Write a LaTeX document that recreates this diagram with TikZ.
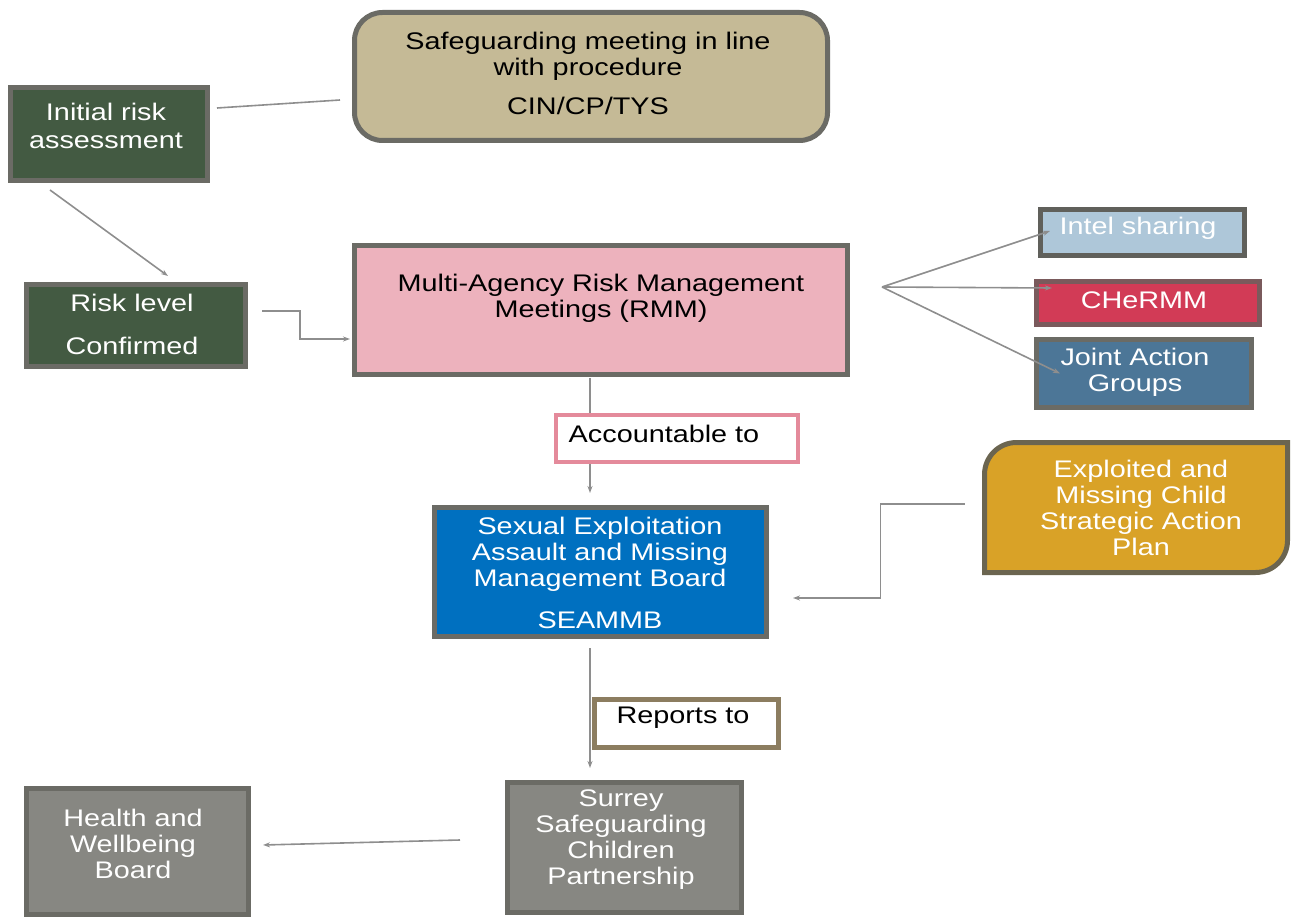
\documentclass[tikz,border=0pt]{standalone}
\usepackage{fontspec}
\setmainfont{Liberation Sans}[FakeStretch=1.2]
\usetikzlibrary{arrows.meta}
\definecolor{dgreen}{HTML}{435A42}
\definecolor{bgray}{HTML}{6B6B65}
\definecolor{tan}{HTML}{C5BA96}
\definecolor{pinkfill}{HTML}{EDB2BD}
\definecolor{lblue}{HTML}{AEC7D9}
\definecolor{redfill}{HTML}{D23B56}
\definecolor{redborder}{HTML}{7A5A5C}
\definecolor{steel}{HTML}{4C7697}
\definecolor{acctpink}{HTML}{E48A9B}
\definecolor{bluefill}{HTML}{0070C0}
\definecolor{gold}{HTML}{D9A227}
\definecolor{goldborder}{HTML}{6B6550}
\definecolor{repborder}{HTML}{8C7D60}
\definecolor{grayfill}{HTML}{878782}
\definecolor{lgray}{HTML}{8E8E8E}
\begin{document}
\begin{tikzpicture}[x=1pt,y=-1pt,
  box/.style={rectangle, line width=5pt, draw=bgray, inner sep=0pt},
  txt/.style={align=center, font=\fontsize{24}{26}\selectfont, inner sep=0pt},
  wtxt/.style={txt, text=white},
  conn/.style={draw=lgray, line width=1.6pt},
  arr/.style={conn, -{Stealth[length=7pt,width=5pt]}}
]
\useasboundingbox (0,0) rectangle (1293,917);

% boxes
\node[box, fill=dgreen, minimum width=197, minimum height=93] (init) at (109,134) {};
\node[box, fill=tan, rounded corners=28pt, minimum width=473, minimum height=128] (safe) at (591,76.5) {};
\node[box, fill=dgreen, minimum width=219, minimum height=82] (risk) at (136,325.5) {};
\node[box, fill=pinkfill, minimum width=493, minimum height=129] (rmm) at (601,310) {};
\node[box, fill=lblue, draw=bgray!90!black, minimum width=204, minimum height=46] (intel) at (1142.5,232.5) {};
\node[box, fill=redfill, draw=redborder, minimum width=223, minimum height=43] (cherm) at (1148,303) {};
\node[box, fill=steel, minimum width=215, minimum height=68] (joint) at (1144,373.5) {};
\node[box, fill=bluefill, minimum width=332, minimum height=129] (seam) at (600.5,572) {};
\node[rectangle, inner sep=0pt, outer sep=0pt, minimum width=303, minimum height=130] (expl) at (1136,507.5) {};
\draw[line width=5pt, draw=goldborder, fill=gold]
  (expl.south west) -- ([shift={(0,32)}]expl.north west)
  arc[start angle=180, end angle=90, radius=32pt]
  -- (expl.north east) -- ([shift={(0,-32)}]expl.south east)
  arc[start angle=0, end angle=-90, radius=32pt] -- cycle;
\node[box, fill=grayfill, minimum width=234, minimum height=130] (surrey) at (624.5,847.5) {};
\node[box, fill=grayfill, minimum width=222, minimum height=126] (health) at (137.5,851.5) {};

% vertical connectors (behind label boxes)
\draw[arr] ([shift={(-11,1)}]rmm.south) -- ([shift={(-10.5,-12)}]seam.north);
\draw[arr] ([shift={(-10.5,9)}]seam.south) -- ([shift={(-34.5,-12)}]surrey.north);

\node[box, fill=white, draw=acctpink, line width=4pt, minimum width=242, minimum height=47] (acct) at (677,438.5) {};
\node[box, fill=white, draw=repborder, minimum width=184, minimum height=48] (rep) at (686.5,723.5) {};

% other connectors
\draw[conn] ([shift={(7,-26)}]init.east) -- ([shift={(-12,23.5)}]safe.west);
\draw[arr] ([shift={(-59,7)}]init.south) -- ([shift={(32,-6)}]risk.north);
\draw[arr] ([shift={(14,-14.5)}]risk.east) -- ++(38,0) |- ([shift={(-2,29)}]rmm.west);
\coordinate (fan) at ([shift={(32,-23)}]rmm.east);
\draw[arr] (fan) -- ([shift={(12,-1.5)}]intel.west);
\draw[arr] (fan) -- ([shift={(18,-15)}]cherm.west);
\draw[arr] (fan) -- ([shift={(26,0)}]joint.west);
\draw[arr] ([shift={(-20,-3.5)}]expl.west) -- ++(-84,0) |- ([shift={(24,26)}]seam.east);
\draw[arr] ([shift={(-45,-7.5)}]surrey.west) -- ([shift={(12,-6.5)}]health.east);

% texts
\node[wtxt] (initT) at (106,126) {Initial risk\\[2pt]assessment};
\node[txt] (safeT) at (588,73.5) {Safeguarding meeting in line\\with procedure\\[13pt]CIN/CP/TYS};
\node[wtxt] (riskT) at (132,324.5) {Risk level\\[17pt]Confirmed};
\node[txt] (rmmT) at (601,298.5) {Multi-Agency Risk Management\\Meetings (RMM)};
\node[wtxt] (intelT) at (1138,228) {Intel sharing};
\node[wtxt] (chermT) at (1144,300) {CHeRMM};
\node[wtxt] (jointT) at (1135,372.5) {Joint Action\\Groups};
\node[txt] (acctT) at (664,434) {Accountable to};
\node[wtxt] (seamT) at (600,573) {Sexual Exploitation\\Assault and Missing\\Management Board\\[16pt]SEAMMB};
\node[wtxt] (explT) at (1141,508) {Exploited and\\Missing Child\\Strategic Action\\Plan};
\node[txt] (repT) at (683,718) {Reports to};
\node[wtxt] (surreyT) at (621,840) {Surrey\\Safeguarding\\Children\\Partnership};
\node[wtxt] (healthT) at (133,844) {Health and\\Wellbeing\\Board};
\end{tikzpicture}
\end{document}
